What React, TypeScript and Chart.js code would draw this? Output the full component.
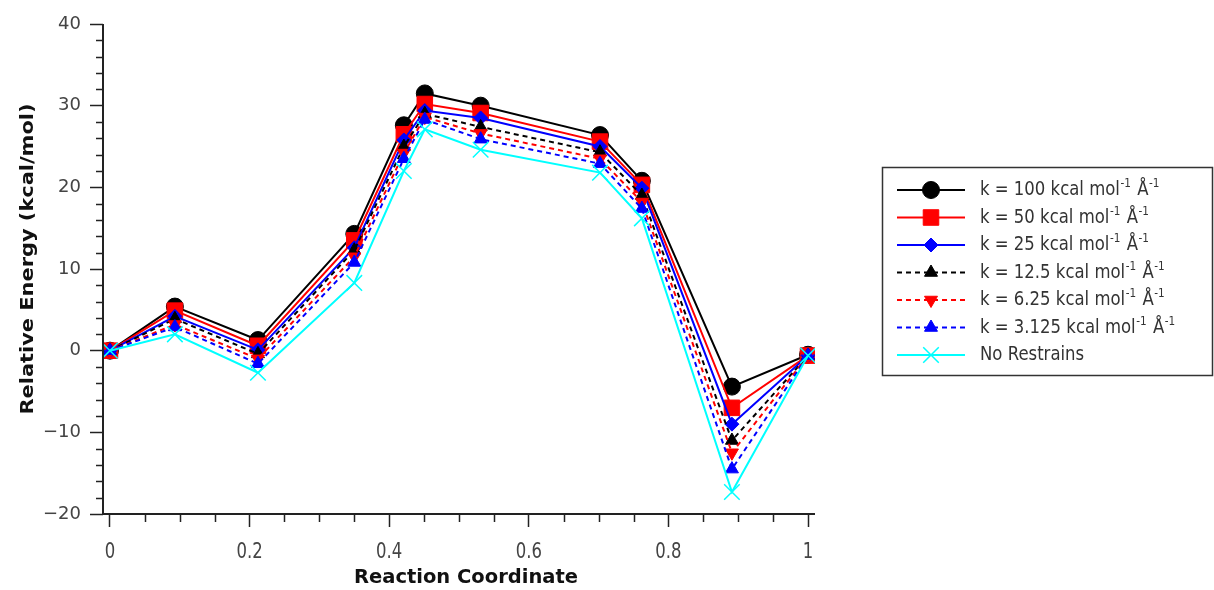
import React, { useEffect, useRef } from "react";
import { Chart, registerables } from "chart.js";
import { drawPoint } from "chart.js/helpers";

Chart.register(...registerables);

const reactionCoordinate = [0, 0.093, 0.212, 0.35, 0.421, 0.451, 0.531, 0.702, 0.762, 0.891, 1.0];
const k100 = [0, 5.4, 1.3, 14.3, 27.6, 31.5, 30.0, 26.4, 20.8, -4.4, -0.5];
const k50 = [0, 4.9, 0.6, 13.5, 26.5, 30.2, 29.1, 25.6, 20.3, -7.0, -0.6];
const k25 = [0, 4.2, 0.1, 12.6, 25.8, 29.4, 28.5, 25.0, 19.9, -9.0, -0.6];
const k12_5 = [0, 3.9, -0.4, 12.3, 25.0, 29.0, 27.4, 24.3, 19.0, -11.0, -0.6];
const k6_25 = [0, 3.2, -1.0, 11.5, 24.2, 28.6, 26.6, 23.5, 18.2, -12.5, -0.6];
const k3_125 = [0, 2.9, -1.6, 10.8, 23.5, 28.3, 25.9, 22.9, 17.4, -14.5, -0.6];
const noRestrains = [0, 2.0, -2.7, 8.3, 22.0, 27.1, 24.6, 21.8, 16.2, -17.3, -0.6];

const seriesLabels = [
  "k = 100 kcal mol⁻¹ Å⁻¹",
  "k = 50 kcal mol⁻¹ Å⁻¹",
  "k = 25 kcal mol⁻¹ Å⁻¹",
  "k = 12.5 kcal mol⁻¹ Å⁻¹",
  "k = 6.25 kcal mol⁻¹ Å⁻¹",
  "k = 3.125 kcal mol⁻¹ Å⁻¹",
  "No Restrains",
];
const seriesValues = [k100, k50, k25, k12_5, k6_25, k3_125, noRestrains];
const seriesColors = ["#000000", "#ff0000", "#0000ff", "#000000", "#ff0000", "#0000ff", "#00ffff"];
const seriesDashed = [false, false, false, true, true, true, false];
const seriesMarkers = ["circle", "rect", "rectRot", "triangle", "triangle", "triangle", "crossRot"];
const seriesMarkerRotation = [0, 0, 0, 0, 180, 0, 0];
const seriesMarkerRadius = [8.5, 11, 7, 7.5, 7.5, 7.5, 11];

const xTickValues = [0, 0.2, 0.4, 0.6, 0.8, 1];
const yTickValues = [-20, -10, 0, 10, 20, 30, 40];
const xMinorStep = 0.05;
const yMinorStep = 2;
const xAxisTitle = "Reaction Coordinate";
const yAxisTitle = "Relative Energy (kcal/mol)";

const FONT = "'DejaVu Sans', sans-serif";
const AXIS_COLOR = "#222222";
const TEXT_COLOR = "#444444";

function drawFitted(ctx: any, text: string, cx: number, cy: number, font: string, targetWidth: number, yScale: number, rotate: boolean) {
  ctx.save();
  ctx.font = font;
  ctx.textAlign = "center";
  ctx.textBaseline = "middle";
  const w = ctx.measureText(text).width;
  ctx.translate(cx, cy);
  if (rotate) ctx.rotate(-Math.PI / 2);
  ctx.scale(targetWidth / w, yScale);
  ctx.fillText(text, 0, 0);
  ctx.restore();
}

const axesPlugin = {
  id: "axesExtras",
  afterDraw(chart: any) {
    const { ctx, scales, chartArea } = chart;
    const xs = scales.x;
    const ys = scales.y;
    ctx.save();
    ctx.strokeStyle = AXIS_COLOR;
    ctx.lineWidth = 2;
    ctx.beginPath();
    ctx.moveTo(chartArea.left, chartArea.top);
    ctx.lineTo(chartArea.left, chartArea.bottom);
    ctx.moveTo(chartArea.left - 1, chartArea.bottom);
    ctx.lineTo(chartArea.right, chartArea.bottom);
    ctx.stroke();
    ctx.lineWidth = 1.5;
    ctx.beginPath();
    for (let i = 0; i <= Math.round(1 / xMinorStep); i++) {
      const v = i * xMinorStep;
      if (Math.abs(v / 0.2 - Math.round(v / 0.2)) < 1e-6) continue;
      const px = Math.round(xs.getPixelForValue(v)) + 0.5;
      ctx.moveTo(px, chartArea.bottom);
      ctx.lineTo(px, chartArea.bottom + 8);
    }
    for (let v = -20; v <= 40; v += yMinorStep) {
      if (v % 10 === 0) continue;
      const py = Math.round(ys.getPixelForValue(v)) + 0.5;
      ctx.moveTo(chartArea.left, py);
      ctx.lineTo(chartArea.left - 7, py);
    }
    ctx.stroke();
    ctx.fillStyle = TEXT_COLOR;
    ctx.textAlign = "center";
    ctx.textBaseline = "middle";
    ctx.font = `17px ${FONT}`;
    xTickValues.forEach((v) => {
      const px = xs.getPixelForValue(v);
      ctx.save();
      ctx.translate(px, chartArea.bottom + 39);
      ctx.scale(0.97, 1.22);
      ctx.fillText(String(v), 0, 0);
      ctx.restore();
    });
    ctx.fillStyle = "#111111";
    drawFitted(ctx, xAxisTitle, 466, 578, `bold 19px ${FONT}`, 224, 1.0, false);
    drawFitted(ctx, yAxisTitle, 28, 259, `bold 18.5px ${FONT}`, 311, 1.0, true);
    ctx.restore();
  },
};

const boxLegendPlugin = {
  id: "boxLegend",
  afterDraw(chart: any) {
    const { ctx } = chart;
    const x0 = 882, y0 = 167, w = 331, h = 209;
    ctx.save();
    ctx.strokeStyle = "#333333";
    ctx.lineWidth = 1.5;
    ctx.strokeRect(x0 + 0.5, y0 + 0.5, w - 1, h - 1);
    chart.data.datasets.forEach((ds: any, i: number) => {
      const y = 190 + i * 27.5;
      ctx.save();
      ctx.strokeStyle = ds.borderColor;
      ctx.lineWidth = ds.borderWidth;
      ctx.setLineDash(ds.borderDash || []);
      ctx.beginPath();
      ctx.moveTo(897, y);
      ctx.lineTo(965, y);
      ctx.stroke();
      ctx.setLineDash([]);
      ctx.fillStyle = ds.pointBackgroundColor;
      ctx.strokeStyle = ds.pointBorderColor;
      ctx.lineWidth = ds.pointBorderWidth;
      drawPoint(ctx, {
        pointStyle: ds.pointStyle,
        radius: ds.pointRadius,
        rotation: ds.pointRotation || 0,
        borderWidth: ds.pointBorderWidth,
      } as any, 931, y);
      ctx.restore();
      const parts = String(ds.label).split("⁻¹");
      ctx.save();
      ctx.translate(980, y);
      ctx.scale(1, 1.22);
      let tx = 0;
      ctx.fillStyle = "#333333";
      ctx.textBaseline = "middle";
      ctx.textAlign = "left";
      parts.forEach((p: string, j: number) => {
        ctx.font = `16.5px ${FONT}`;
        ctx.fillText(p, tx, 0);
        tx += ctx.measureText(p).width;
        if (j < parts.length - 1) {
          ctx.font = `10.5px ${FONT}`;
          ctx.fillText("-1", tx + 0.5, -5);
          tx += ctx.measureText("-1").width + 1.5;
        }
      });
      ctx.restore();
    });
    ctx.restore();
  },
};

export default function App() {
  const canvasRef = useRef<HTMLCanvasElement | null>(null);

  useEffect(() => {
    const canvas = canvasRef.current;
    if (!canvas) return;
    const datasets = seriesValues.map((vals, i) => ({
      label: seriesLabels[i],
      data: vals.map((v, j) => ({ x: reactionCoordinate[j], y: v })),
      borderColor: seriesColors[i],
      backgroundColor: seriesColors[i],
      borderWidth: 2,
      borderDash: seriesDashed[i] ? [5, 4] : [],
      pointStyle: seriesMarkers[i],
      pointRotation: seriesMarkerRotation[i],
      pointRadius: seriesMarkerRadius[i],
      pointBackgroundColor: seriesColors[i],
      pointBorderColor: seriesColors[i],
      pointBorderWidth: seriesMarkers[i] === "crossRot" ? 1.5 : 1,
      tension: 0,
      fill: false,
      order: seriesValues.length - 1 - i,
    }));

    const chart = new Chart(canvas, {
      type: "line",
      data: { datasets } as any,
      options: {
        responsive: false,
        animation: false,
        layout: { padding: { left: 0, right: 399, top: 24, bottom: 0 } },
        plugins: {
          legend: { display: false },
          tooltip: { enabled: false },
        },
        scales: {
          x: {
            type: "linear",
            min: -0.01,
            max: 1.01,
            afterBuildTicks: (s: any) => {
              s.ticks = xTickValues.map((v) => ({ value: v }));
            },
            afterFit: (s: any) => {
              s.height = 76;
              s.paddingLeft = 0;
              s.paddingRight = 0;
            },
            border: { display: false },
            grid: {
              display: true,
              drawOnChartArea: false,
              drawTicks: true,
              tickLength: 13,
              tickColor: AXIS_COLOR,
              tickWidth: 1.5,
            },
            ticks: { display: false },
            title: { display: false },
          },
          y: {
            type: "linear",
            min: -20,
            max: 40,
            afterBuildTicks: (s: any) => {
              s.ticks = yTickValues.map((v) => ({ value: v }));
            },
            afterFit: (s: any) => {
              s.width = 103;
            },
            border: { display: false },
            grid: {
              display: true,
              drawOnChartArea: false,
              drawTicks: true,
              tickLength: 13,
              tickColor: AXIS_COLOR,
              tickWidth: 1.5,
            },
            ticks: {
              color: TEXT_COLOR,
              font: { size: 18, family: FONT },
              padding: 9,
              callback: (v: any) => (Number(v) < 0 ? "\u2212" + String(Math.abs(Number(v))) : String(v)),
            },
            title: { display: false },
          },
        },
      } as any,
      plugins: [axesPlugin, boxLegendPlugin],
    });
    return () => chart.destroy();
  }, []);

  return (
    <div style={{ position: "absolute", left: 0, top: 0, width: 1214, height: 590, background: "#ffffff" }}>
      <canvas ref={canvasRef} width={1214} height={590} style={{ width: 1214, height: 590, display: "block" }} />
    </div>
  );
}
